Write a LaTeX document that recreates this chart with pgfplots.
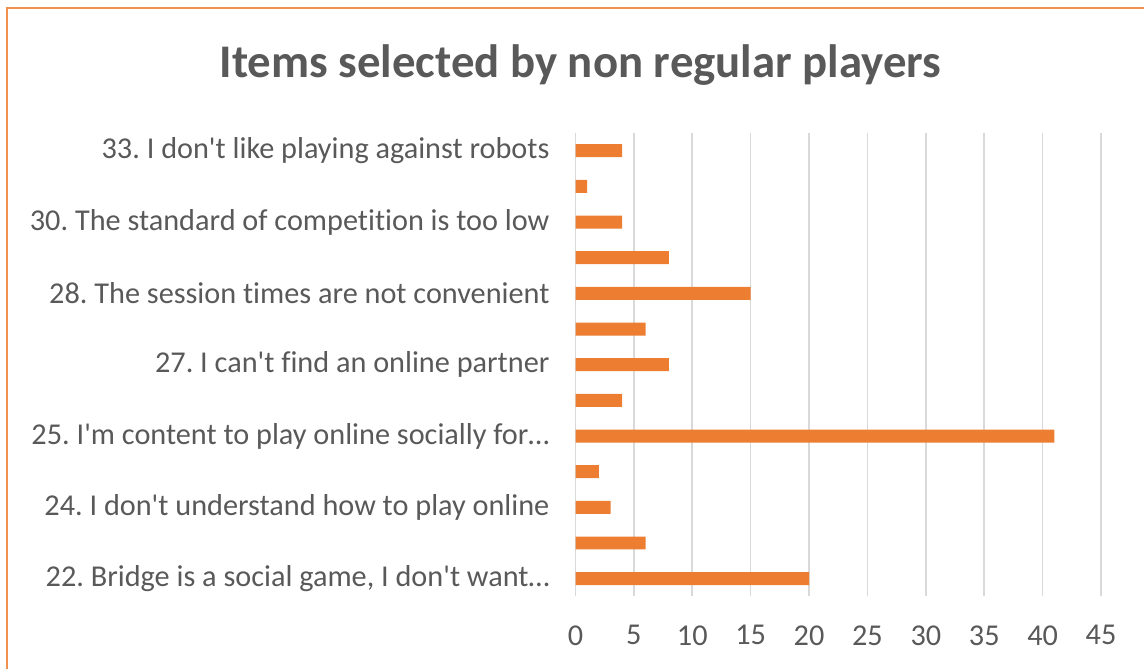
\documentclass[border=0pt]{standalone}
\usepackage{fontspec}
\setmainfont{Carlito}[Ligatures={TeXOff,CommonOff}]
\usepackage{pgfplots}
\pgfplotsset{compat=1.18}
\definecolor{barorange}{HTML}{ED7D31}
\definecolor{txtgray}{HTML}{595959}
\definecolor{gridgray}{HTML}{D9D9D9}
\frenchspacing
\begin{document}
\begin{tikzpicture}[x=1bp,y=1bp]
\path (0,0) rectangle (572.5,335);
\draw[barorange!85, line width=1bp] (3.5,0) -- (3.5,331) -- (572.5,331);
\node[anchor=base, text=txtgray, font=\fontsize{23.5}{28}\selectfont\bfseries] at (290.5,296) {Items selected by non regular players};
\begin{axis}[
    at={(288bp,36.5bp)}, anchor=south west,
    scale only axis, width=263bp, height=232bp,
    xbar, bar width=6.5bp,
    xmin=0, xmax=45, ymin=-0.5, ymax=12.5,
    xtick={0,5,...,45},
    ytick={0,2,4,6,8,10,12},
    yticklabels={22. Bridge is a social game{,} I don't want\dots,
                 24. I don't understand how to play online,
                 25. I'm content to play online socially for\dots,
                 27. I can't find an online partner,
                 28. The session times are not convenient,
                 30. The standard of competition is too low,
                 33. I don't like playing against robots},
    xmajorgrids, grid style={gridgray, line width=0.8bp},
    axis line style={draw=none},
    major tick length=0pt,
    tick label style={text=txtgray, font=\fontsize{15.2}{18}\selectfont},
    yticklabel style={xshift=-9.5bp},
    xticklabel style={yshift=-11bp},
    /pgf/number format/assume math mode=true,
]
\addplot[fill=barorange, draw=none] coordinates {
 (20,0) (6,1) (3,2) (2,3) (41,4) (4,5) (8,6) (6,7) (15,8) (8,9) (4,10) (1,11) (4,12)
};
\end{axis}
\end{tikzpicture}
\end{document}
